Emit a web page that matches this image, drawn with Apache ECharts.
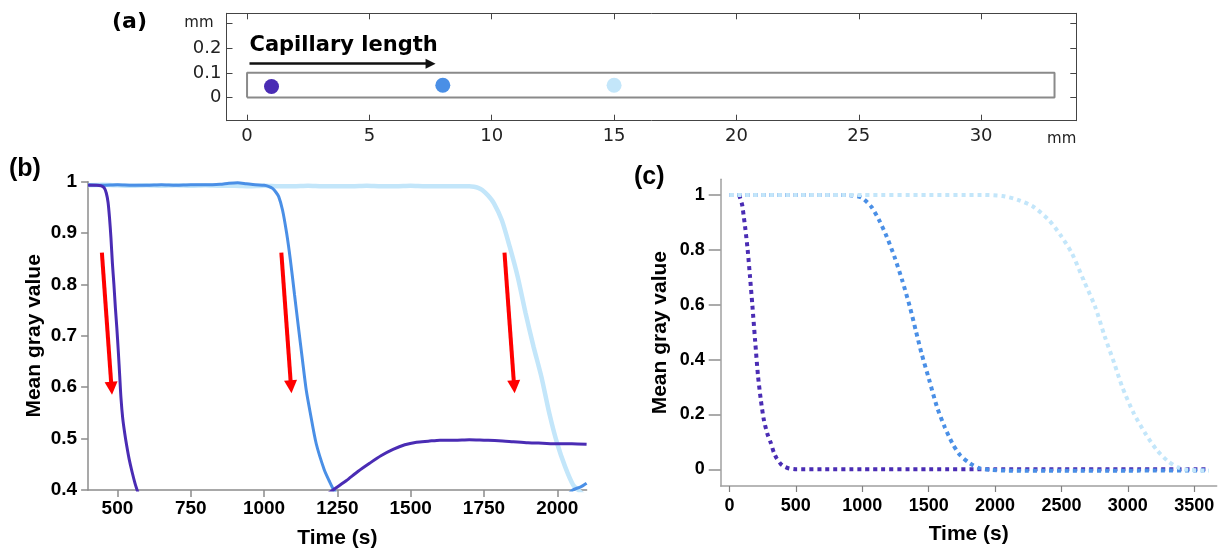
<!DOCTYPE html>
<html><head><meta charset="utf-8">
<script src="https://cdn.jsdelivr.net/npm/echarts@6/dist/echarts.min.js"></script>
<style>html,body{margin:0;padding:0;background:#fff}#c{width:1225px;height:554px}</style>
</head><body><div id="c"></div>
<script>
// ---------- panel (a): capillary schematic ----------
const capillaryLength = 33;      // mm
const capillaryHeight = 0.1;     // mm
const probeX = [1, 8, 15];       // mm
const probeY = [0.045, 0.05, 0.05];
const aXTicks = [0, 5, 10, 15, 20, 25, 30];
const aYTicks = [0, 0.1, 0.2, 0.3];
const capArrowX = [0.1, 7.5];
const capArrowY = 0.137;

// ---------- panel (b): measured mean gray value ----------
const bT1 = [400,430,445,455,462,468,473,478,483,488,493,498,503,508,512,518,525,532,540,550,560,570,585,610,700,850,1000,1120,1200,1240,1280,1320,1360,1400,1440,1480,1520,1560,1600,1650,1700,1750,1800,1850,1900,1950,2000,2050,2100];
const bV1 = [0.993,0.993,0.992,0.988,0.978,0.96,0.93,0.89,0.84,0.80,0.755,0.715,0.67,0.62,0.58,0.54,0.51,0.485,0.46,0.435,0.413,0.395,0.37,0.34,0.30,0.28,0.30,0.35,0.385,0.402,0.418,0.436,0.452,0.467,0.479,0.488,0.493,0.495,0.497,0.497,0.498,0.497,0.496,0.494,0.492,0.491,0.490,0.490,0.489];
const bT2 = [400,450,500,550,600,650,700,750,800,850,880,910,940,970,1000,1015,1029,1040,1050,1063,1077,1090,1104,1117,1131,1144,1158,1178,1205,1222,1238,1260,1400,1700,1900,2000,2053,2080,2100];
const bV2 = [0.994,0.993,0.994,0.993,0.993,0.994,0.993,0.994,0.994,0.995,0.997,0.998,0.996,0.994,0.993,0.991,0.987,0.98,0.971,0.945,0.90,0.847,0.78,0.718,0.653,0.594,0.549,0.49,0.44,0.418,0.40,0.385,0.35,0.34,0.35,0.37,0.40,0.406,0.413];
const bT3 = [400,450,500,550,600,650,700,750,800,850,900,950,1000,1050,1100,1150,1200,1250,1300,1350,1400,1450,1500,1550,1600,1650,1700,1716,1730,1744,1764,1784,1811,1838,1865,1892,1919,1946,1973,2000,2027,2054,2081,2100];
const bV3 = [0.993,0.994,0.993,0.992,0.993,0.992,0.993,0.992,0.993,0.992,0.992,0.991,0.992,0.991,0.991,0.992,0.991,0.991,0.991,0.992,0.991,0.991,0.992,0.991,0.991,0.991,0.991,0.99,0.988,0.984,0.973,0.958,0.925,0.873,0.815,0.744,0.679,0.62,0.549,0.49,0.445,0.41,0.395,0.385];
const bXTicks = [500, 750, 1000, 1250, 1500, 1750, 2000];
const bYTicks = [0.4, 0.5, 0.6, 0.7, 0.8, 0.9, 1];
const arrowStart = [[447, 0.862], [1059, 0.862], [1820, 0.862]];
const arrowEnd = [[480, 0.598], [1092, 0.601], [1853, 0.601]];

// ---------- panel (c): simulated mean gray value ----------
const cT1 = [72,95,108,120,137,155,172,193,215,237,259,285,312,335,355,385,413,450,501,700,1000,1500,2000,2500,3000,3600];
const cV1 = [1.0,0.965,0.92,0.875,0.8,0.7,0.6,0.47,0.34,0.25,0.18,0.13,0.095,0.06,0.04,0.02,0.01,0.003,0,0,0,0,0,0,0,0];
const cT2 = [0,300,600,800,923,995,1068,1126,1184,1242,1300,1358,1402,1446,1504,1562,1620,1678,1736,1809,1881,1969,2100,2500,3000,3600];
const cV2 = [1,1,1,1,0.998,0.99,0.957,0.909,0.848,0.775,0.69,0.593,0.508,0.423,0.326,0.228,0.155,0.095,0.052,0.022,0.004,-0.002,-0.005,-0.005,-0.005,-0.004];
const cT3 = [0,500,1000,1500,1900,2056,2172,2288,2404,2492,2579,2666,2753,2826,2898,2957,3044,3131,3218,3305,3378,3451,3610];
const cV3 = [1,1,1,1,1,0.996,0.982,0.957,0.909,0.854,0.787,0.69,0.593,0.484,0.386,0.301,0.204,0.131,0.07,0.028,0.007,-0.002,-0.005];
const cXTicks = [0, 500, 1000, 1500, 2000, 2500, 3000, 3500];
const cYTicks = [0, 0.2, 0.4, 0.6, 0.8, 1];

// ---------- styles ----------
const C_PURPLE = '#4a2cb4', C_BLUE = '#4a8fe6', C_LIGHT = '#c3e6fa', C_RED = '#ff0000';
const zip = (a, b) => a.map((v, i) => [v, b[i]]);
const plain = v => String(v);
const boldFont = {fontFamily: 'Liberation Sans', fontWeight: 'bold', color: '#000'};

const capRect = [[0, 0], [capillaryLength, 0], [capillaryLength, capillaryHeight], [0, capillaryHeight], [0, 0]];
const probeColors = [C_PURPLE, C_BLUE, C_LIGHT];

function frameAxis(extra) {
  return Object.assign({
    type: 'value', gridIndex: 0,
    axisLine: {show: true, onZero: false, lineStyle: {color: '#444', width: 1}},
    axisTick: {show: true, inside: true, length: 6, lineStyle: {color: '#444', width: 1}},
    splitLine: {show: false}
  }, extra);
}

const option = {
  animation: false,
  backgroundColor: '#fff',
  title: [
    {text: '(a)', left: 112, top: 11, padding: 0, textStyle: {fontFamily: 'DejaVu Sans', fontWeight: 'bold', fontSize: 22, color: '#000'}},
    {text: '(b)', left: 9, top: 157, padding: 0, textStyle: Object.assign({fontSize: 25}, boldFont)},
    {text: '(c)', left: 634, top: 165, padding: 0, textStyle: Object.assign({fontSize: 25}, boldFont)}
  ],
  grid: [
    {left: 226.5, top: 13.3, width: 849.8, height: 107.4},
    {left: 88.1, top: 181.7, width: 498.5, height: 308.3},
    {left: 720.7, top: 179.3, width: 496, height: 306.7}
  ],
  xAxis: [
    frameAxis({position: 'bottom', min: -0.84, max: 33.89,
      axisTick: {show: true, inside: true, length: 6, customValues: aXTicks, lineStyle: {color: '#444'}},
      axisLabel: {show: true, customValues: aXTicks, formatter: plain, margin: 7, fontFamily: 'DejaVu Sans', fontSize: 18, color: '#222'},
      name: 'mm', nameLocation: 'end', nameGap: 0,
      nameTextStyle: {fontFamily: 'DejaVu Sans', fontSize: 15, color: '#222', align: 'right', verticalAlign: 'top', padding: [11, 0, 0, 0]}}),
    frameAxis({position: 'top', min: -0.84, max: 33.89,
      axisTick: {show: true, inside: true, length: 6, customValues: aXTicks, lineStyle: {color: '#444'}},
      axisLabel: {show: false}}),
    {type: 'value', gridIndex: 1, min: 400, max: 2100,
      axisLine: {show: true, onZero: false, lineStyle: {color: '#8c8c8c', width: 1.5}},
      axisTick: {show: true, length: 7, customValues: bXTicks, lineStyle: {color: '#8c8c8c', width: 1.5}},
      axisLabel: Object.assign({customValues: bXTicks, formatter: plain, margin: 9, fontSize: 19}, boldFont),
      splitLine: {show: false},
      name: 'Time (s)', nameLocation: 'middle', nameGap: 38, nameTextStyle: Object.assign({fontSize: 21}, boldFont)},
    {type: 'value', gridIndex: 2, min: -66, max: 3669,
      axisLine: {show: true, onZero: false, lineStyle: {color: '#a0a0a0', width: 1.5}},
      axisTick: {show: true, length: 6, customValues: cXTicks, lineStyle: {color: '#808080', width: 1.2}},
      axisLabel: Object.assign({customValues: cXTicks, formatter: plain, margin: 11, fontSize: 18}, boldFont),
      splitLine: {show: false},
      name: 'Time (s)', nameLocation: 'middle', nameGap: 37.5, nameTextStyle: Object.assign({fontSize: 21}, boldFont)}
  ],
  yAxis: [
    frameAxis({position: 'left', min: -0.0935, max: 0.341,
      axisTick: {show: true, inside: true, length: 6, customValues: aYTicks, lineStyle: {color: '#444'}},
      axisLabel: {show: true, customValues: aYTicks, margin: 5, fontFamily: 'DejaVu Sans', fontSize: 18, color: '#222',
        formatter: v => (v > 0.25 ? '{u|mm}' : String(v)),
        rich: {u: {fontFamily: 'DejaVu Sans', fontSize: 15, color: '#222', padding: [0, 8, 0, 0]}}}}),
    frameAxis({position: 'right', min: -0.0935, max: 0.341,
      axisTick: {show: true, inside: true, length: 6, customValues: aYTicks, lineStyle: {color: '#444'}},
      axisLabel: {show: false}}),
    {type: 'value', gridIndex: 1, min: 0.4, max: 1,
      axisLine: {show: true, onZero: false, lineStyle: {color: '#8c8c8c', width: 1.5}},
      axisTick: {show: true, length: 7, customValues: bYTicks, lineStyle: {color: '#8c8c8c', width: 1.5}},
      axisLabel: Object.assign({customValues: bYTicks, formatter: plain, margin: 11, fontSize: 19}, boldFont),
      splitLine: {show: false},
      name: 'Mean gray value', nameLocation: 'middle', nameGap: 43, nameTextStyle: Object.assign({fontSize: 21}, boldFont)},
    {type: 'value', gridIndex: 2, min: -0.061, max: 1.057,
      axisLine: {show: true, onZero: false, lineStyle: {color: '#a0a0a0', width: 1.5}},
      axisTick: {show: true, length: 12, customValues: cYTicks, lineStyle: {color: '#909090', width: 1.5}},
      axisLabel: Object.assign({customValues: cYTicks, formatter: plain, margin: 16, fontSize: 18}, boldFont),
      splitLine: {show: false},
      name: 'Mean gray value', nameLocation: 'middle', nameGap: 50, nameTextStyle: Object.assign({fontSize: 21}, boldFont)}
  ],
  series: [
    // (a) capillary outline + length arrow
    {type: 'line', xAxisIndex: 0, yAxisIndex: 0, data: capRect, symbol: 'none', silent: true,
      lineStyle: {color: '#8a8a8a', width: 2},
      markLine: {silent: true, symbol: ['none', 'triangle'], symbolSize: 10,
        lineStyle: {color: '#111', width: 2.5, type: 'solid'},
        label: {show: true, position: 'insideStartTop', distance: [0, 8], formatter: 'Capillary length',
          fontFamily: 'DejaVu Sans', fontWeight: 'bold', fontSize: 21, color: '#000'},
        data: [[{coord: [capArrowX[0], capArrowY]}, {coord: [capArrowX[1], capArrowY]}]]}},
    {type: 'scatter', xAxisIndex: 0, yAxisIndex: 0, symbolSize: 15, silent: true,
      itemStyle: {opacity: 1},
      data: probeX.map((x, i) => ({value: [x, probeY[i]], itemStyle: {color: probeColors[i], opacity: 1}}))},
    // (b) measured
    {type: 'line', xAxisIndex: 2, yAxisIndex: 2, data: zip(bT3, bV3), symbol: 'none', smooth: 0.25,
      lineStyle: {color: C_LIGHT, width: 4.5}},
    {type: 'line', xAxisIndex: 2, yAxisIndex: 2, data: zip(bT2, bV2), symbol: 'none', smooth: 0.25,
      lineStyle: {color: C_BLUE, width: 3}},
    {type: 'line', xAxisIndex: 2, yAxisIndex: 2, data: zip(bT1, bV1), symbol: 'none', smooth: 0.25,
      lineStyle: {color: C_PURPLE, width: 3},
      markLine: {silent: true, symbol: ['none', 'triangle'], symbolSize: 13,
        lineStyle: {color: C_RED, width: 4, type: 'solid'}, label: {show: false},
        data: arrowStart.map((s, i) => [{coord: s}, {coord: arrowEnd[i]}])}},
    // (c) simulated
    {type: 'line', xAxisIndex: 3, yAxisIndex: 3, data: zip(cT1, cV1), symbol: 'none', smooth: 0.25,
      lineStyle: {color: C_PURPLE, width: 4, type: [4, 4], cap: 'butt'}},
    {type: 'line', xAxisIndex: 3, yAxisIndex: 3, data: zip(cT2, cV2), symbol: 'none', smooth: 0.25,
      lineStyle: {color: C_BLUE, width: 4, type: [4, 4], cap: 'butt'}},
    {type: 'line', xAxisIndex: 3, yAxisIndex: 3, data: zip(cT3, cV3), symbol: 'none', smooth: 0.25,
      lineStyle: {color: C_LIGHT, width: 4, type: [4, 4], cap: 'butt'}}
  ]
};

const chart = echarts.init(document.getElementById('c'));
chart.setOption(option);
</script></body></html>
